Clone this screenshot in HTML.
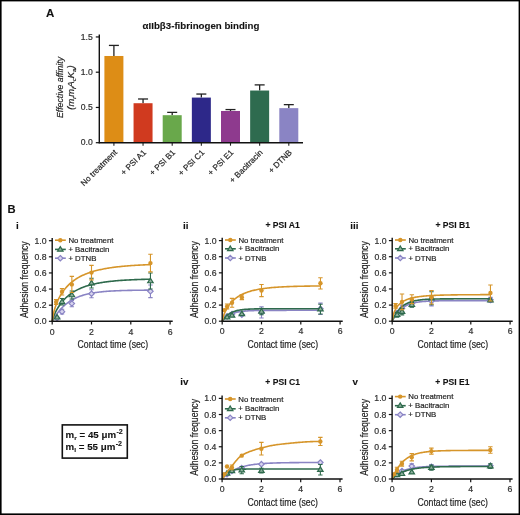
<!DOCTYPE html>
<html><head><meta charset="utf-8"><style>
html,body{margin:0;padding:0;background:#fff;}
svg{display:block;filter:blur(0.3px);font-family:"Liberation Sans", sans-serif;}
text{stroke:#2a2a2a;stroke-width:0.2px;}
text[font-weight=bold]{stroke-width:0.12px;}
</style></head><body>
<svg width="520" height="515" viewBox="0 0 520 515">
<rect width="520" height="515" fill="#fff"/>
<line x1="113.90" y1="55.98" x2="113.90" y2="45.41" stroke="#222" stroke-width="1.3"/>
<line x1="108.90" y1="45.41" x2="118.90" y2="45.41" stroke="#222" stroke-width="1.3"/>
<rect x="104.40" y="55.98" width="19.0" height="86.72" fill="#DD8D16"/>
<line x1="113.90" y1="142.70" x2="113.90" y2="145.70" stroke="#222" stroke-width="1.1"/>
<text x="117.50" y="153.00" font-size="8.2" text-anchor="end" transform="rotate(-45 117.50 153.00)" fill="#1a1a1a">No treatment</text>
<line x1="143.05" y1="103.22" x2="143.05" y2="98.99" stroke="#222" stroke-width="1.3"/>
<line x1="138.05" y1="98.99" x2="148.05" y2="98.99" stroke="#222" stroke-width="1.3"/>
<rect x="133.55" y="103.22" width="19.0" height="39.48" fill="#D03A1F"/>
<line x1="143.05" y1="142.70" x2="143.05" y2="145.70" stroke="#222" stroke-width="1.1"/>
<text x="146.65" y="153.00" font-size="8.2" text-anchor="end" transform="rotate(-45 146.65 153.00)" fill="#1a1a1a">+ PSI A1</text>
<line x1="172.20" y1="115.20" x2="172.20" y2="112.38" stroke="#222" stroke-width="1.3"/>
<line x1="167.20" y1="112.38" x2="177.20" y2="112.38" stroke="#222" stroke-width="1.3"/>
<rect x="162.70" y="115.20" width="19.0" height="27.50" fill="#69A84B"/>
<line x1="172.20" y1="142.70" x2="172.20" y2="145.70" stroke="#222" stroke-width="1.1"/>
<text x="175.80" y="153.00" font-size="8.2" text-anchor="end" transform="rotate(-45 175.80 153.00)" fill="#1a1a1a">+ PSI B1</text>
<line x1="201.35" y1="97.58" x2="201.35" y2="94.05" stroke="#222" stroke-width="1.3"/>
<line x1="196.35" y1="94.05" x2="206.35" y2="94.05" stroke="#222" stroke-width="1.3"/>
<rect x="191.85" y="97.58" width="19.0" height="45.12" fill="#2D2889"/>
<line x1="201.35" y1="142.70" x2="201.35" y2="145.70" stroke="#222" stroke-width="1.1"/>
<text x="204.95" y="153.00" font-size="8.2" text-anchor="end" transform="rotate(-45 204.95 153.00)" fill="#1a1a1a">+ PSI C1</text>
<line x1="230.50" y1="110.97" x2="230.50" y2="109.56" stroke="#222" stroke-width="1.3"/>
<line x1="225.50" y1="109.56" x2="235.50" y2="109.56" stroke="#222" stroke-width="1.3"/>
<rect x="221.00" y="110.97" width="19.0" height="31.72" fill="#8E3A8E"/>
<line x1="230.50" y1="142.70" x2="230.50" y2="145.70" stroke="#222" stroke-width="1.1"/>
<text x="234.10" y="153.00" font-size="8.2" text-anchor="end" transform="rotate(-45 234.10 153.00)" fill="#1a1a1a">+ PSI E1</text>
<line x1="259.65" y1="90.53" x2="259.65" y2="84.89" stroke="#222" stroke-width="1.3"/>
<line x1="254.65" y1="84.89" x2="264.65" y2="84.89" stroke="#222" stroke-width="1.3"/>
<rect x="250.15" y="90.53" width="19.0" height="52.17" fill="#2E6B4F"/>
<line x1="259.65" y1="142.70" x2="259.65" y2="145.70" stroke="#222" stroke-width="1.1"/>
<text x="263.25" y="153.00" font-size="8.2" text-anchor="end" transform="rotate(-45 263.25 153.00)" fill="#1a1a1a">+ Bacitracin</text>
<line x1="288.80" y1="108.15" x2="288.80" y2="104.63" stroke="#222" stroke-width="1.3"/>
<line x1="283.80" y1="104.63" x2="293.80" y2="104.63" stroke="#222" stroke-width="1.3"/>
<rect x="279.30" y="108.15" width="19.0" height="34.55" fill="#8A84C4"/>
<line x1="288.80" y1="142.70" x2="288.80" y2="145.70" stroke="#222" stroke-width="1.1"/>
<text x="292.40" y="153.00" font-size="8.2" text-anchor="end" transform="rotate(-45 292.40 153.00)" fill="#1a1a1a">+ DTNB</text>
<line x1="99.3" y1="34.45" x2="99.3" y2="143.30" stroke="#111" stroke-width="1.4"/>
<line x1="98.7" y1="142.7" x2="303" y2="142.7" stroke="#111" stroke-width="1.4"/>
<line x1="95.8" y1="142.70" x2="99.3" y2="142.70" stroke="#111" stroke-width="1.2"/>
<text x="92.70" y="145.30" font-size="8.6" text-anchor="end" fill="#333">0.0</text>
<line x1="95.8" y1="107.45" x2="99.3" y2="107.45" stroke="#111" stroke-width="1.2"/>
<text x="92.70" y="110.05" font-size="8.6" text-anchor="end" fill="#333">0.5</text>
<line x1="95.8" y1="72.20" x2="99.3" y2="72.20" stroke="#111" stroke-width="1.2"/>
<text x="92.70" y="74.80" font-size="8.6" text-anchor="end" fill="#333">1.0</text>
<line x1="95.8" y1="36.95" x2="99.3" y2="36.95" stroke="#111" stroke-width="1.2"/>
<text x="92.70" y="39.55" font-size="8.6" text-anchor="end" fill="#333">1.5</text>
<text transform="translate(62.8,87.5) rotate(-90) scale(0.93,1)" font-size="9.4" font-style="italic" text-anchor="middle" fill="#1a1a1a">Effective affinity</text>
<text transform="translate(74,87.5) rotate(-90) scale(1.0,1)" font-size="9.4" font-style="italic" text-anchor="middle" fill="#1a1a1a">(m<tspan font-size="6.2" dy="1.8">r</tspan><tspan dy="-1.8">m</tspan><tspan font-size="6.2" dy="1.8">l</tspan><tspan dy="-1.8">A</tspan><tspan font-size="6.2" dy="1.8">c</tspan><tspan dy="-1.8">K</tspan><tspan font-size="6.2" dy="1.8">a</tspan><tspan dy="-1.8">)</tspan></text>
<text x="142.6" y="28.5" font-size="9.7" font-weight="bold" fill="#111">αIIbβ3-fibrinogen binding</text>
<text x="45.9" y="16.9" font-size="11.5" font-weight="bold" fill="#111">A</text>
<text x="7.6" y="212.7" font-size="11.2" font-weight="bold" fill="#111">B</text>
<path d="M52.20,321.30 L53.18,319.57 L54.17,317.93 L55.15,316.38 L56.13,314.92 L57.11,313.54 L58.10,312.24 L59.08,311.01 L60.06,309.85 L61.04,308.75 L62.03,307.71 L63.01,306.73 L63.99,305.81 L64.97,304.93 L65.95,304.11 L66.94,303.33 L67.92,302.59 L68.90,301.89 L69.89,301.24 L70.87,300.62 L71.85,300.03 L72.83,299.47 L73.81,298.95 L74.80,298.46 L75.78,297.99 L76.76,297.55 L77.75,297.13 L78.73,296.74 L79.71,296.37 L80.69,296.02 L81.67,295.68 L82.66,295.37 L83.64,295.07 L84.62,294.79 L85.61,294.53 L86.59,294.28 L87.57,294.05 L88.55,293.82 L89.53,293.61 L90.52,293.41 L91.50,293.23 L92.48,293.05 L93.47,292.88 L94.45,292.72 L95.43,292.57 L96.41,292.43 L97.40,292.30 L98.38,292.17 L99.36,292.05 L100.34,291.94 L101.33,291.84 L102.31,291.74 L103.29,291.64 L104.27,291.55 L105.25,291.47 L106.24,291.39 L107.22,291.31 L108.20,291.24 L109.19,291.17 L110.17,291.11 L111.15,291.05 L112.13,290.99 L113.12,290.94 L114.10,290.89 L115.08,290.84 L116.06,290.80 L117.05,290.75 L118.03,290.71 L119.01,290.68 L119.99,290.64 L120.97,290.61 L121.96,290.57 L122.94,290.54 L123.92,290.51 L124.91,290.49 L125.89,290.46 L126.87,290.44 L127.85,290.42 L128.84,290.39 L129.82,290.37 L130.80,290.35 L131.78,290.34 L132.76,290.32 L133.75,290.30 L134.73,290.29 L135.71,290.27 L136.69,290.26 L137.68,290.25 L138.66,290.23 L139.64,290.22 L140.62,290.21 L141.61,290.20 L142.59,290.19 L143.57,290.18 L144.56,290.17 L145.54,290.17 L146.52,290.16 L147.50,290.15 L148.49,290.14 L149.47,290.14 L150.45,290.13" fill="none" stroke="#8A84C4" stroke-width="1.6"/>
<polygon points="57.11,315.38 59.81,318.08 57.11,320.78 54.41,318.08" fill="#D8D5EE" stroke="#8A84C4" stroke-width="1.2"/>
<path d="M62.03,314.05 V309.21 M59.83,309.21 h4.4 M59.83,314.05 h4.4" stroke="#8A84C4" stroke-width="1.1" fill="none"/>
<polygon points="62.03,308.93 64.73,311.63 62.03,314.33 59.33,311.63" fill="#D8D5EE" stroke="#8A84C4" stroke-width="1.2"/>
<path d="M71.85,306.79 V300.34 M69.65,300.34 h4.4 M69.65,306.79 h4.4" stroke="#8A84C4" stroke-width="1.1" fill="none"/>
<polygon points="71.85,300.87 74.55,303.57 71.85,306.27 69.15,303.57" fill="#D8D5EE" stroke="#8A84C4" stroke-width="1.2"/>
<path d="M91.50,297.76 V289.70 M89.30,289.70 h4.4 M89.30,297.76 h4.4" stroke="#8A84C4" stroke-width="1.1" fill="none"/>
<polygon points="91.50,291.03 94.20,293.73 91.50,296.43 88.80,293.73" fill="#D8D5EE" stroke="#8A84C4" stroke-width="1.2"/>
<path d="M150.45,297.60 V285.03 M148.25,285.03 h4.4 M148.25,297.60 h4.4" stroke="#8A84C4" stroke-width="1.1" fill="none"/>
<polygon points="150.45,288.62 153.15,291.32 150.45,294.02 147.75,291.32" fill="#D8D5EE" stroke="#8A84C4" stroke-width="1.2"/>
<path d="M52.20,321.30 L53.18,317.82 L54.17,315.23 L55.15,312.99 L56.13,310.99 L57.11,309.17 L58.10,307.51 L59.08,305.97 L60.06,304.55 L61.04,303.22 L62.03,301.98 L63.01,300.82 L63.99,299.73 L64.97,298.71 L65.95,297.75 L66.94,296.85 L67.92,295.99 L68.90,295.19 L69.89,294.42 L70.87,293.70 L71.85,293.02 L72.83,292.37 L73.81,291.75 L74.80,291.17 L75.78,290.62 L76.76,290.09 L77.75,289.59 L78.73,289.11 L79.71,288.66 L80.69,288.23 L81.67,287.82 L82.66,287.43 L83.64,287.05 L84.62,286.70 L85.61,286.36 L86.59,286.04 L87.57,285.73 L88.55,285.43 L89.53,285.15 L90.52,284.88 L91.50,284.63 L92.48,284.38 L93.47,284.14 L94.45,283.92 L95.43,283.71 L96.41,283.50 L97.40,283.30 L98.38,283.12 L99.36,282.94 L100.34,282.76 L101.33,282.60 L102.31,282.44 L103.29,282.29 L104.27,282.14 L105.25,282.01 L106.24,281.87 L107.22,281.74 L108.20,281.62 L109.19,281.50 L110.17,281.39 L111.15,281.28 L112.13,281.18 L113.12,281.08 L114.10,280.99 L115.08,280.89 L116.06,280.81 L117.05,280.72 L118.03,280.64 L119.01,280.56 L119.99,280.49 L120.97,280.42 L121.96,280.35 L122.94,280.28 L123.92,280.22 L124.91,280.16 L125.89,280.10 L126.87,280.04 L127.85,279.99 L128.84,279.94 L129.82,279.89 L130.80,279.84 L131.78,279.79 L132.76,279.75 L133.75,279.71 L134.73,279.67 L135.71,279.63 L136.69,279.59 L137.68,279.55 L138.66,279.52 L139.64,279.48 L140.62,279.45 L141.61,279.42 L142.59,279.39 L143.57,279.36 L144.56,279.33 L145.54,279.30 L146.52,279.28 L147.50,279.25 L148.49,279.23 L149.47,279.21 L150.45,279.18" fill="none" stroke="#2E6A4C" stroke-width="1.6"/>
<polygon points="57.11,314.47 59.86,319.01 54.37,319.01" fill="#8FB09E" stroke="#2E6A4C" stroke-width="1.2"/>
<path d="M62.03,305.02 V298.57 M59.83,298.57 h4.4 M59.83,305.02 h4.4" stroke="#2E6A4C" stroke-width="1.1" fill="none"/>
<polygon points="62.03,298.99 64.77,303.53 59.28,303.53" fill="#8FB09E" stroke="#2E6A4C" stroke-width="1.2"/>
<path d="M71.85,299.05 V290.99 M69.65,290.99 h4.4 M69.65,299.05 h4.4" stroke="#2E6A4C" stroke-width="1.1" fill="none"/>
<polygon points="71.85,292.22 74.59,296.76 69.11,296.76" fill="#8FB09E" stroke="#2E6A4C" stroke-width="1.2"/>
<path d="M91.50,287.93 V278.26 M89.30,278.26 h4.4 M89.30,287.93 h4.4" stroke="#2E6A4C" stroke-width="1.1" fill="none"/>
<polygon points="91.50,280.30 94.24,284.83 88.76,284.83" fill="#8FB09E" stroke="#2E6A4C" stroke-width="1.2"/>
<path d="M150.45,289.06 V272.94 M148.25,272.94 h4.4 M148.25,289.06 h4.4" stroke="#2E6A4C" stroke-width="1.1" fill="none"/>
<polygon points="150.45,278.20 153.19,282.74 147.71,282.74" fill="#8FB09E" stroke="#2E6A4C" stroke-width="1.2"/>
<path d="M52.20,321.30 L53.18,314.76 L54.17,310.74 L55.15,307.46 L56.13,304.66 L57.11,302.19 L58.10,299.97 L59.08,297.97 L60.06,296.14 L61.04,294.46 L62.03,292.91 L63.01,291.47 L63.99,290.13 L64.97,288.88 L65.95,287.71 L66.94,286.61 L67.92,285.58 L68.90,284.61 L69.89,283.69 L70.87,282.83 L71.85,282.01 L72.83,281.24 L73.81,280.51 L74.80,279.81 L75.78,279.15 L76.76,278.53 L77.75,277.93 L78.73,277.36 L79.71,276.82 L80.69,276.31 L81.67,275.81 L82.66,275.34 L83.64,274.90 L84.62,274.47 L85.61,274.06 L86.59,273.67 L87.57,273.29 L88.55,272.93 L89.53,272.59 L90.52,272.26 L91.50,271.94 L92.48,271.64 L93.47,271.35 L94.45,271.07 L95.43,270.80 L96.41,270.55 L97.40,270.30 L98.38,270.06 L99.36,269.84 L100.34,269.62 L101.33,269.41 L102.31,269.20 L103.29,269.01 L104.27,268.82 L105.25,268.64 L106.24,268.46 L107.22,268.30 L108.20,268.13 L109.19,267.98 L110.17,267.83 L111.15,267.68 L112.13,267.54 L113.12,267.41 L114.10,267.28 L115.08,267.15 L116.06,267.03 L117.05,266.92 L118.03,266.80 L119.01,266.69 L119.99,266.59 L120.97,266.49 L121.96,266.39 L122.94,266.30 L123.92,266.20 L124.91,266.12 L125.89,266.03 L126.87,265.95 L127.85,265.87 L128.84,265.79 L129.82,265.72 L130.80,265.64 L131.78,265.57 L132.76,265.50 L133.75,265.44 L134.73,265.38 L135.71,265.31 L136.69,265.26 L137.68,265.20 L138.66,265.14 L139.64,265.09 L140.62,265.04 L141.61,264.99 L142.59,264.94 L143.57,264.89 L144.56,264.84 L145.54,264.80 L146.52,264.75 L147.50,264.71 L148.49,264.67 L149.47,264.63 L150.45,264.59" fill="none" stroke="#D6952A" stroke-width="1.6"/>
<path d="M56.13,304.37 V299.54 M53.93,299.54 h4.4 M53.93,304.37 h4.4" stroke="#D6952A" stroke-width="1.1" fill="none"/>
<circle cx="56.13" cy="301.96" r="2.20" fill="#D6952A"/>
<path d="M62.03,295.02 V288.58 M59.83,288.58 h4.4 M59.83,295.02 h4.4" stroke="#D6952A" stroke-width="1.1" fill="none"/>
<circle cx="62.03" cy="291.80" r="2.20" fill="#D6952A"/>
<path d="M71.85,292.45 V276.33 M69.65,276.33 h4.4 M69.65,292.45 h4.4" stroke="#D6952A" stroke-width="1.1" fill="none"/>
<circle cx="71.85" cy="284.39" r="2.20" fill="#D6952A"/>
<path d="M91.50,279.87 V265.36 M89.30,265.36 h4.4 M89.30,279.87 h4.4" stroke="#D6952A" stroke-width="1.1" fill="none"/>
<circle cx="91.50" cy="272.62" r="2.20" fill="#D6952A"/>
<path d="M150.45,271.89 V254.32 M148.25,254.32 h4.4 M148.25,271.89 h4.4" stroke="#D6952A" stroke-width="1.1" fill="none"/>
<circle cx="150.45" cy="263.11" r="2.20" fill="#D6952A"/>
<path d="M52.20,237.90 V321.30 M51.50,321.30 H172.70" stroke="#111" stroke-width="1.4" fill="none"/>
<line x1="48.90" y1="321.30" x2="52.20" y2="321.30" stroke="#111" stroke-width="1.2"/>
<text x="46.50" y="324.30" font-size="8.7" text-anchor="end" fill="#333">0.0</text>
<line x1="48.90" y1="305.18" x2="52.20" y2="305.18" stroke="#111" stroke-width="1.2"/>
<text x="46.50" y="308.18" font-size="8.7" text-anchor="end" fill="#333">0.2</text>
<line x1="48.90" y1="289.06" x2="52.20" y2="289.06" stroke="#111" stroke-width="1.2"/>
<text x="46.50" y="292.06" font-size="8.7" text-anchor="end" fill="#333">0.4</text>
<line x1="48.90" y1="272.94" x2="52.20" y2="272.94" stroke="#111" stroke-width="1.2"/>
<text x="46.50" y="275.94" font-size="8.7" text-anchor="end" fill="#333">0.6</text>
<line x1="48.90" y1="256.82" x2="52.20" y2="256.82" stroke="#111" stroke-width="1.2"/>
<text x="46.50" y="259.82" font-size="8.7" text-anchor="end" fill="#333">0.8</text>
<line x1="48.90" y1="240.70" x2="52.20" y2="240.70" stroke="#111" stroke-width="1.2"/>
<text x="46.50" y="243.70" font-size="8.7" text-anchor="end" fill="#333">1.0</text>
<line x1="52.20" y1="321.30" x2="52.20" y2="324.50" stroke="#111" stroke-width="1.2"/>
<text x="52.20" y="334.50" font-size="8.7" text-anchor="middle" fill="#333">0</text>
<line x1="91.50" y1="321.30" x2="91.50" y2="324.50" stroke="#111" stroke-width="1.2"/>
<text x="91.50" y="334.50" font-size="8.7" text-anchor="middle" fill="#333">2</text>
<line x1="130.80" y1="321.30" x2="130.80" y2="324.50" stroke="#111" stroke-width="1.2"/>
<text x="130.80" y="334.50" font-size="8.7" text-anchor="middle" fill="#333">4</text>
<line x1="170.10" y1="321.30" x2="170.10" y2="324.50" stroke="#111" stroke-width="1.2"/>
<text x="170.10" y="334.50" font-size="8.7" text-anchor="middle" fill="#333">6</text>
<text transform="translate(28.20,279.70) rotate(-90) scale(0.87,1)" font-size="10.0" text-anchor="middle" fill="#1a1a1a">Adhesion frequency</text>
<text transform="translate(112.80,348.30) scale(0.87,1)" font-size="10.0" text-anchor="middle" fill="#1a1a1a">Contact time (sec)</text>
<line x1="55.00" y1="240.20" x2="65.80" y2="240.20" stroke="#D6952A" stroke-width="1.6"/>
<circle cx="60.30" cy="240.20" r="2.20" fill="#D6952A"/>
<text x="68.40" y="242.80" font-size="7.8" fill="#1a1a1a">No treatment</text>
<line x1="55.00" y1="249.40" x2="65.80" y2="249.40" stroke="#2E6A4C" stroke-width="1.6"/>
<polygon points="60.30,246.60 63.04,251.14 57.56,251.14" fill="#8FB09E" stroke="#2E6A4C" stroke-width="1.2"/>
<text x="68.40" y="252.00" font-size="7.8" fill="#1a1a1a">+ Bacitracin</text>
<line x1="55.00" y1="258.20" x2="65.80" y2="258.20" stroke="#8A84C4" stroke-width="1.6"/>
<polygon points="60.30,255.50 63.00,258.20 60.30,260.90 57.60,258.20" fill="#D8D5EE" stroke="#8A84C4" stroke-width="1.2"/>
<text x="68.40" y="260.80" font-size="7.8" fill="#1a1a1a">+ DTNB</text>
<text x="16.00" y="228.90" font-size="9.8" font-weight="bold" fill="#111">i</text>
<path d="M222.20,321.20 L223.18,320.02 L224.16,318.96 L225.15,318.03 L226.13,317.19 L227.11,316.44 L228.09,315.78 L229.08,315.18 L230.06,314.66 L231.04,314.18 L232.02,313.76 L233.01,313.39 L233.99,313.06 L234.97,312.76 L235.95,312.49 L236.94,312.26 L237.92,312.05 L238.90,311.86 L239.88,311.69 L240.87,311.54 L241.85,311.41 L242.83,311.29 L243.81,311.19 L244.80,311.09 L245.78,311.01 L246.76,310.93 L247.74,310.87 L248.73,310.81 L249.71,310.75 L250.69,310.71 L251.67,310.66 L252.66,310.63 L253.64,310.59 L254.62,310.56 L255.60,310.54 L256.59,310.51 L257.57,310.49 L258.55,310.47 L259.53,310.46 L260.52,310.44 L261.50,310.43 L262.48,310.42 L263.46,310.41 L264.45,310.40 L265.43,310.39 L266.41,310.38 L267.39,310.37 L268.38,310.37 L269.36,310.36 L270.34,310.36 L271.32,310.35 L272.31,310.35 L273.29,310.35 L274.27,310.34 L275.25,310.34 L276.24,310.34 L277.22,310.34 L278.20,310.33 L279.19,310.33 L280.17,310.33 L281.15,310.33 L282.13,310.33 L283.12,310.33 L284.10,310.33 L285.08,310.33 L286.06,310.33 L287.04,310.32 L288.03,310.32 L289.01,310.32 L289.99,310.32 L290.97,310.32 L291.96,310.32 L292.94,310.32 L293.92,310.32 L294.90,310.32 L295.89,310.32 L296.87,310.32 L297.85,310.32 L298.83,310.32 L299.82,310.32 L300.80,310.32 L301.78,310.32 L302.76,310.32 L303.75,310.32 L304.73,310.32 L305.71,310.32 L306.69,310.32 L307.68,310.32 L308.66,310.32 L309.64,310.32 L310.62,310.32 L311.61,310.32 L312.59,310.32 L313.57,310.32 L314.55,310.32 L315.54,310.32 L316.52,310.32 L317.50,310.32 L318.49,310.32 L319.47,310.32 L320.45,310.32" fill="none" stroke="#8A84C4" stroke-width="1.6"/>
<polygon points="227.11,313.66 229.81,316.36 227.11,319.06 224.41,316.36" fill="#D8D5EE" stroke="#8A84C4" stroke-width="1.2"/>
<polygon points="232.02,311.25 234.72,313.95 232.02,316.65 229.32,313.95" fill="#D8D5EE" stroke="#8A84C4" stroke-width="1.2"/>
<polygon points="241.85,312.05 244.55,314.75 241.85,317.45 239.15,314.75" fill="#D8D5EE" stroke="#8A84C4" stroke-width="1.2"/>
<path d="M261.50,317.98 V306.69 M259.30,306.69 h4.4 M259.30,317.98 h4.4" stroke="#8A84C4" stroke-width="1.1" fill="none"/>
<polygon points="261.50,309.63 264.20,312.33 261.50,315.03 258.80,312.33" fill="#D8D5EE" stroke="#8A84C4" stroke-width="1.2"/>
<path d="M320.45,314.43 V303.15 M318.25,303.15 h4.4 M318.25,314.43 h4.4" stroke="#8A84C4" stroke-width="1.1" fill="none"/>
<polygon points="320.45,306.09 323.15,308.79 320.45,311.49 317.75,308.79" fill="#D8D5EE" stroke="#8A84C4" stroke-width="1.2"/>
<path d="M222.20,321.20 L223.18,319.73 L224.16,318.44 L225.15,317.29 L226.13,316.28 L227.11,315.39 L228.09,314.61 L229.08,313.91 L230.06,313.30 L231.04,312.76 L232.02,312.29 L233.01,311.87 L233.99,311.49 L234.97,311.17 L235.95,310.88 L236.94,310.62 L237.92,310.40 L238.90,310.20 L239.88,310.02 L240.87,309.87 L241.85,309.73 L242.83,309.61 L243.81,309.51 L244.80,309.41 L245.78,309.33 L246.76,309.26 L247.74,309.19 L248.73,309.13 L249.71,309.08 L250.69,309.04 L251.67,309.00 L252.66,308.97 L253.64,308.94 L254.62,308.91 L255.60,308.89 L256.59,308.86 L257.57,308.85 L258.55,308.83 L259.53,308.82 L260.52,308.80 L261.50,308.79 L262.48,308.78 L263.46,308.77 L264.45,308.76 L265.43,308.76 L266.41,308.75 L267.39,308.75 L268.38,308.74 L269.36,308.74 L270.34,308.73 L271.32,308.73 L272.31,308.73 L273.29,308.73 L274.27,308.72 L275.25,308.72 L276.24,308.72 L277.22,308.72 L278.20,308.72 L279.19,308.72 L280.17,308.71 L281.15,308.71 L282.13,308.71 L283.12,308.71 L284.10,308.71 L285.08,308.71 L286.06,308.71 L287.04,308.71 L288.03,308.71 L289.01,308.71 L289.99,308.71 L290.97,308.71 L291.96,308.71 L292.94,308.71 L293.92,308.71 L294.90,308.71 L295.89,308.71 L296.87,308.71 L297.85,308.71 L298.83,308.71 L299.82,308.71 L300.80,308.71 L301.78,308.71 L302.76,308.71 L303.75,308.71 L304.73,308.71 L305.71,308.71 L306.69,308.71 L307.68,308.71 L308.66,308.71 L309.64,308.71 L310.62,308.71 L311.61,308.71 L312.59,308.71 L313.57,308.71 L314.55,308.71 L315.54,308.71 L316.52,308.71 L317.50,308.71 L318.49,308.71 L319.47,308.71 L320.45,308.71" fill="none" stroke="#2E6A4C" stroke-width="1.6"/>
<polygon points="227.11,314.37 229.86,318.91 224.37,318.91" fill="#8FB09E" stroke="#2E6A4C" stroke-width="1.2"/>
<polygon points="232.02,312.60 234.77,317.13 229.28,317.13" fill="#8FB09E" stroke="#2E6A4C" stroke-width="1.2"/>
<polygon points="241.85,311.15 244.59,315.68 239.11,315.68" fill="#8FB09E" stroke="#2E6A4C" stroke-width="1.2"/>
<path d="M261.50,314.75 V308.30 M259.30,308.30 h4.4 M259.30,314.75 h4.4" stroke="#2E6A4C" stroke-width="1.1" fill="none"/>
<polygon points="261.50,308.73 264.24,313.26 258.76,313.26" fill="#8FB09E" stroke="#2E6A4C" stroke-width="1.2"/>
<path d="M320.45,313.95 V304.27 M318.25,304.27 h4.4 M318.25,313.95 h4.4" stroke="#2E6A4C" stroke-width="1.1" fill="none"/>
<polygon points="320.45,306.31 323.19,310.85 317.71,310.85" fill="#8FB09E" stroke="#2E6A4C" stroke-width="1.2"/>
<path d="M222.20,321.20 L223.18,316.96 L224.16,314.14 L225.15,311.83 L226.13,309.84 L227.11,308.08 L228.09,306.52 L229.08,305.11 L230.06,303.84 L231.04,302.67 L232.02,301.61 L233.01,300.63 L233.99,299.72 L234.97,298.89 L235.95,298.12 L236.94,297.40 L237.92,296.73 L238.90,296.11 L239.88,295.53 L240.87,294.99 L241.85,294.48 L242.83,294.01 L243.81,293.56 L244.80,293.15 L245.78,292.76 L246.76,292.39 L247.74,292.04 L248.73,291.72 L249.71,291.41 L250.69,291.12 L251.67,290.85 L252.66,290.59 L253.64,290.35 L254.62,290.12 L255.60,289.91 L256.59,289.70 L257.57,289.51 L258.55,289.33 L259.53,289.15 L260.52,288.99 L261.50,288.83 L262.48,288.69 L263.46,288.55 L264.45,288.42 L265.43,288.29 L266.41,288.17 L267.39,288.06 L268.38,287.95 L269.36,287.85 L270.34,287.75 L271.32,287.66 L272.31,287.57 L273.29,287.49 L274.27,287.41 L275.25,287.34 L276.24,287.26 L277.22,287.20 L278.20,287.13 L279.19,287.07 L280.17,287.01 L281.15,286.95 L282.13,286.90 L283.12,286.85 L284.10,286.80 L285.08,286.75 L286.06,286.71 L287.04,286.67 L288.03,286.63 L289.01,286.59 L289.99,286.55 L290.97,286.52 L291.96,286.48 L292.94,286.45 L293.92,286.42 L294.90,286.39 L295.89,286.37 L296.87,286.34 L297.85,286.31 L298.83,286.29 L299.82,286.27 L300.80,286.24 L301.78,286.22 L302.76,286.20 L303.75,286.18 L304.73,286.17 L305.71,286.15 L306.69,286.13 L307.68,286.12 L308.66,286.10 L309.64,286.08 L310.62,286.07 L311.61,286.06 L312.59,286.04 L313.57,286.03 L314.55,286.02 L315.54,286.01 L316.52,286.00 L317.50,285.99 L318.49,285.98 L319.47,285.97 L320.45,285.96" fill="none" stroke="#D6952A" stroke-width="1.6"/>
<circle cx="224.16" cy="310.16" r="2.20" fill="#D6952A"/>
<path d="M227.11,308.87 V304.03 M224.91,304.03 h4.4 M224.91,308.87 h4.4" stroke="#D6952A" stroke-width="1.1" fill="none"/>
<circle cx="227.11" cy="306.45" r="2.20" fill="#D6952A"/>
<path d="M232.02,307.26 V298.39 M229.82,298.39 h4.4 M229.82,307.26 h4.4" stroke="#D6952A" stroke-width="1.1" fill="none"/>
<circle cx="232.02" cy="302.82" r="2.20" fill="#D6952A"/>
<path d="M241.85,299.60 V294.76 M239.65,294.76 h4.4 M239.65,299.60 h4.4" stroke="#D6952A" stroke-width="1.1" fill="none"/>
<circle cx="241.85" cy="297.18" r="2.20" fill="#D6952A"/>
<path d="M261.50,296.62 V284.53 M259.30,284.53 h4.4 M259.30,296.62 h4.4" stroke="#D6952A" stroke-width="1.1" fill="none"/>
<circle cx="261.50" cy="290.57" r="2.20" fill="#D6952A"/>
<path d="M320.45,288.96 V277.68 M318.25,277.68 h4.4 M318.25,288.96 h4.4" stroke="#D6952A" stroke-width="1.1" fill="none"/>
<circle cx="320.45" cy="283.32" r="2.20" fill="#D6952A"/>
<path d="M222.20,237.80 V321.20 M221.50,321.20 H342.70" stroke="#111" stroke-width="1.4" fill="none"/>
<line x1="218.90" y1="321.20" x2="222.20" y2="321.20" stroke="#111" stroke-width="1.2"/>
<text x="216.50" y="324.20" font-size="8.7" text-anchor="end" fill="#333">0.0</text>
<line x1="218.90" y1="305.08" x2="222.20" y2="305.08" stroke="#111" stroke-width="1.2"/>
<text x="216.50" y="308.08" font-size="8.7" text-anchor="end" fill="#333">0.2</text>
<line x1="218.90" y1="288.96" x2="222.20" y2="288.96" stroke="#111" stroke-width="1.2"/>
<text x="216.50" y="291.96" font-size="8.7" text-anchor="end" fill="#333">0.4</text>
<line x1="218.90" y1="272.84" x2="222.20" y2="272.84" stroke="#111" stroke-width="1.2"/>
<text x="216.50" y="275.84" font-size="8.7" text-anchor="end" fill="#333">0.6</text>
<line x1="218.90" y1="256.72" x2="222.20" y2="256.72" stroke="#111" stroke-width="1.2"/>
<text x="216.50" y="259.72" font-size="8.7" text-anchor="end" fill="#333">0.8</text>
<line x1="218.90" y1="240.60" x2="222.20" y2="240.60" stroke="#111" stroke-width="1.2"/>
<text x="216.50" y="243.60" font-size="8.7" text-anchor="end" fill="#333">1.0</text>
<line x1="222.20" y1="321.20" x2="222.20" y2="324.40" stroke="#111" stroke-width="1.2"/>
<text x="222.20" y="334.40" font-size="8.7" text-anchor="middle" fill="#333">0</text>
<line x1="261.50" y1="321.20" x2="261.50" y2="324.40" stroke="#111" stroke-width="1.2"/>
<text x="261.50" y="334.40" font-size="8.7" text-anchor="middle" fill="#333">2</text>
<line x1="300.80" y1="321.20" x2="300.80" y2="324.40" stroke="#111" stroke-width="1.2"/>
<text x="300.80" y="334.40" font-size="8.7" text-anchor="middle" fill="#333">4</text>
<line x1="340.10" y1="321.20" x2="340.10" y2="324.40" stroke="#111" stroke-width="1.2"/>
<text x="340.10" y="334.40" font-size="8.7" text-anchor="middle" fill="#333">6</text>
<text transform="translate(198.20,279.60) rotate(-90) scale(0.87,1)" font-size="10.0" text-anchor="middle" fill="#1a1a1a">Adhesion frequency</text>
<text transform="translate(282.80,348.20) scale(0.87,1)" font-size="10.0" text-anchor="middle" fill="#1a1a1a">Contact time (sec)</text>
<line x1="225.00" y1="240.00" x2="235.80" y2="240.00" stroke="#D6952A" stroke-width="1.6"/>
<circle cx="230.30" cy="240.00" r="2.20" fill="#D6952A"/>
<text x="238.40" y="242.60" font-size="7.8" fill="#1a1a1a">No treatment</text>
<line x1="225.00" y1="248.80" x2="235.80" y2="248.80" stroke="#2E6A4C" stroke-width="1.6"/>
<polygon points="230.30,246.00 233.04,250.54 227.56,250.54" fill="#8FB09E" stroke="#2E6A4C" stroke-width="1.2"/>
<text x="238.40" y="251.40" font-size="7.8" fill="#1a1a1a">+ Bacitracin</text>
<line x1="225.00" y1="258.00" x2="235.80" y2="258.00" stroke="#8A84C4" stroke-width="1.6"/>
<polygon points="230.30,255.30 233.00,258.00 230.30,260.70 227.60,258.00" fill="#D8D5EE" stroke="#8A84C4" stroke-width="1.2"/>
<text x="238.40" y="260.60" font-size="7.8" fill="#1a1a1a">+ DTNB</text>
<text x="183.00" y="228.90" font-size="9.8" font-weight="bold" fill="#111">ii</text>
<text x="265.40" y="227.60" font-size="8.6" font-weight="bold" fill="#111">+ PSI A1</text>
<path d="M392.20,321.20 L393.18,319.24 L394.16,317.47 L395.15,315.87 L396.13,314.42 L397.11,313.11 L398.09,311.93 L399.08,310.85 L400.06,309.88 L401.04,309.00 L402.02,308.21 L403.01,307.49 L403.99,306.84 L404.97,306.25 L405.95,305.72 L406.94,305.23 L407.92,304.80 L408.90,304.40 L409.88,304.04 L410.87,303.72 L411.85,303.43 L412.83,303.16 L413.81,302.92 L414.80,302.71 L415.78,302.51 L416.76,302.33 L417.75,302.17 L418.73,302.03 L419.71,301.90 L420.69,301.78 L421.68,301.67 L422.66,301.57 L423.64,301.48 L424.62,301.41 L425.61,301.33 L426.59,301.27 L427.57,301.21 L428.55,301.16 L429.53,301.11 L430.52,301.06 L431.50,301.02 L432.48,300.99 L433.46,300.96 L434.45,300.93 L435.43,300.90 L436.41,300.88 L437.39,300.85 L438.38,300.83 L439.36,300.82 L440.34,300.80 L441.32,300.79 L442.31,300.77 L443.29,300.76 L444.27,300.75 L445.25,300.74 L446.24,300.73 L447.22,300.72 L448.20,300.72 L449.19,300.71 L450.17,300.70 L451.15,300.70 L452.13,300.69 L453.12,300.69 L454.10,300.68 L455.08,300.68 L456.06,300.68 L457.04,300.67 L458.03,300.67 L459.01,300.67 L459.99,300.67 L460.97,300.67 L461.96,300.66 L462.94,300.66 L463.92,300.66 L464.90,300.66 L465.89,300.66 L466.87,300.66 L467.85,300.66 L468.83,300.66 L469.82,300.65 L470.80,300.65 L471.78,300.65 L472.76,300.65 L473.75,300.65 L474.73,300.65 L475.71,300.65 L476.69,300.65 L477.68,300.65 L478.66,300.65 L479.64,300.65 L480.62,300.65 L481.61,300.65 L482.59,300.65 L483.57,300.65 L484.55,300.65 L485.54,300.65 L486.52,300.65 L487.50,300.65 L488.49,300.65 L489.47,300.65 L490.45,300.65" fill="none" stroke="#8A84C4" stroke-width="1.6"/>
<path d="M397.11,315.56 V310.72 M394.91,310.72 h4.4 M394.91,315.56 h4.4" stroke="#8A84C4" stroke-width="1.1" fill="none"/>
<polygon points="397.11,310.44 399.81,313.14 397.11,315.84 394.41,313.14" fill="#D8D5EE" stroke="#8A84C4" stroke-width="1.2"/>
<path d="M402.02,311.53 V305.08 M399.82,305.08 h4.4 M399.82,311.53 h4.4" stroke="#8A84C4" stroke-width="1.1" fill="none"/>
<polygon points="402.02,305.60 404.72,308.30 402.02,311.00 399.32,308.30" fill="#D8D5EE" stroke="#8A84C4" stroke-width="1.2"/>
<path d="M411.85,306.69 V300.24 M409.65,300.24 h4.4 M409.65,306.69 h4.4" stroke="#8A84C4" stroke-width="1.1" fill="none"/>
<polygon points="411.85,300.77 414.55,303.47 411.85,306.17 409.15,303.47" fill="#D8D5EE" stroke="#8A84C4" stroke-width="1.2"/>
<path d="M431.50,305.89 V296.21 M429.30,296.21 h4.4 M429.30,305.89 h4.4" stroke="#8A84C4" stroke-width="1.1" fill="none"/>
<polygon points="431.50,298.35 434.20,301.05 431.50,303.75 428.80,301.05" fill="#D8D5EE" stroke="#8A84C4" stroke-width="1.2"/>
<path d="M490.45,302.26 V297.42 M488.25,297.42 h4.4 M488.25,302.26 h4.4" stroke="#8A84C4" stroke-width="1.1" fill="none"/>
<polygon points="490.45,297.14 493.15,299.84 490.45,302.54 487.75,299.84" fill="#D8D5EE" stroke="#8A84C4" stroke-width="1.2"/>
<path d="M392.20,321.20 L393.18,318.97 L394.16,316.96 L395.15,315.15 L396.13,313.52 L397.11,312.05 L398.09,310.73 L399.08,309.54 L400.06,308.47 L401.04,307.50 L402.02,306.63 L403.01,305.85 L403.99,305.15 L404.97,304.52 L405.95,303.95 L406.94,303.43 L407.92,302.97 L408.90,302.55 L409.88,302.18 L410.87,301.84 L411.85,301.54 L412.83,301.26 L413.81,301.02 L414.80,300.80 L415.78,300.60 L416.76,300.42 L417.75,300.25 L418.73,300.11 L419.71,299.98 L420.69,299.86 L421.68,299.75 L422.66,299.66 L423.64,299.57 L424.62,299.49 L425.61,299.42 L426.59,299.36 L427.57,299.30 L428.55,299.25 L429.53,299.21 L430.52,299.17 L431.50,299.13 L432.48,299.10 L433.46,299.07 L434.45,299.04 L435.43,299.01 L436.41,298.99 L437.39,298.97 L438.38,298.95 L439.36,298.94 L440.34,298.92 L441.32,298.91 L442.31,298.90 L443.29,298.89 L444.27,298.88 L445.25,298.87 L446.24,298.86 L447.22,298.86 L448.20,298.85 L449.19,298.84 L450.17,298.84 L451.15,298.83 L452.13,298.83 L453.12,298.83 L454.10,298.82 L455.08,298.82 L456.06,298.82 L457.04,298.82 L458.03,298.81 L459.01,298.81 L459.99,298.81 L460.97,298.81 L461.96,298.81 L462.94,298.80 L463.92,298.80 L464.90,298.80 L465.89,298.80 L466.87,298.80 L467.85,298.80 L468.83,298.80 L469.82,298.80 L470.80,298.80 L471.78,298.80 L472.76,298.80 L473.75,298.80 L474.73,298.80 L475.71,298.80 L476.69,298.80 L477.68,298.80 L478.66,298.80 L479.64,298.80 L480.62,298.79 L481.61,298.79 L482.59,298.79 L483.57,298.79 L484.55,298.79 L485.54,298.79 L486.52,298.79 L487.50,298.79 L488.49,298.79 L489.47,298.79 L490.45,298.79" fill="none" stroke="#2E6A4C" stroke-width="1.6"/>
<path d="M397.11,317.17 V312.33 M394.91,312.33 h4.4 M394.91,317.17 h4.4" stroke="#2E6A4C" stroke-width="1.1" fill="none"/>
<polygon points="397.11,311.95 399.86,316.49 394.37,316.49" fill="#8FB09E" stroke="#2E6A4C" stroke-width="1.2"/>
<path d="M402.02,314.91 V308.47 M399.82,308.47 h4.4 M399.82,314.91 h4.4" stroke="#2E6A4C" stroke-width="1.1" fill="none"/>
<polygon points="402.02,308.89 404.77,313.43 399.28,313.43" fill="#8FB09E" stroke="#2E6A4C" stroke-width="1.2"/>
<path d="M411.85,307.18 V302.34 M409.65,302.34 h4.4 M409.65,307.18 h4.4" stroke="#2E6A4C" stroke-width="1.1" fill="none"/>
<polygon points="411.85,301.96 414.59,306.49 409.11,306.49" fill="#8FB09E" stroke="#2E6A4C" stroke-width="1.2"/>
<path d="M431.50,304.68 V291.78 M429.30,291.78 h4.4 M429.30,304.68 h4.4" stroke="#2E6A4C" stroke-width="1.1" fill="none"/>
<polygon points="431.50,295.43 434.24,299.96 428.76,299.96" fill="#8FB09E" stroke="#2E6A4C" stroke-width="1.2"/>
<polygon points="490.45,297.28 493.19,301.82 487.71,301.82" fill="#8FB09E" stroke="#2E6A4C" stroke-width="1.2"/>
<path d="M392.20,321.20 L393.18,315.25 L394.16,312.24 L395.15,310.01 L396.13,308.24 L397.11,306.79 L398.09,305.56 L399.08,304.51 L400.06,303.59 L401.04,302.79 L402.02,302.09 L403.01,301.46 L403.99,300.90 L404.97,300.40 L405.95,299.95 L406.94,299.54 L407.92,299.17 L408.90,298.83 L409.88,298.53 L410.87,298.25 L411.85,297.99 L412.83,297.76 L413.81,297.54 L414.80,297.35 L415.78,297.16 L416.76,297.00 L417.75,296.84 L418.73,296.70 L419.71,296.56 L420.69,296.44 L421.68,296.33 L422.66,296.22 L423.64,296.12 L424.62,296.03 L425.61,295.94 L426.59,295.86 L427.57,295.79 L428.55,295.72 L429.53,295.66 L430.52,295.60 L431.50,295.54 L432.48,295.49 L433.46,295.44 L434.45,295.39 L435.43,295.35 L436.41,295.30 L437.39,295.27 L438.38,295.23 L439.36,295.20 L440.34,295.16 L441.32,295.13 L442.31,295.11 L443.29,295.08 L444.27,295.05 L445.25,295.03 L446.24,295.01 L447.22,294.99 L448.20,294.97 L449.19,294.95 L450.17,294.93 L451.15,294.91 L452.13,294.90 L453.12,294.88 L454.10,294.87 L455.08,294.86 L456.06,294.84 L457.04,294.83 L458.03,294.82 L459.01,294.81 L459.99,294.80 L460.97,294.79 L461.96,294.78 L462.94,294.77 L463.92,294.76 L464.90,294.76 L465.89,294.75 L466.87,294.74 L467.85,294.74 L468.83,294.73 L469.82,294.72 L470.80,294.72 L471.78,294.71 L472.76,294.71 L473.75,294.70 L474.73,294.70 L475.71,294.69 L476.69,294.69 L477.68,294.69 L478.66,294.68 L479.64,294.68 L480.62,294.67 L481.61,294.67 L482.59,294.67 L483.57,294.67 L484.55,294.66 L485.54,294.66 L486.52,294.66 L487.50,294.65 L488.49,294.65 L489.47,294.65 L490.45,294.65" fill="none" stroke="#D6952A" stroke-width="1.6"/>
<path d="M395.54,308.30 V303.47 M393.34,303.47 h4.4 M393.34,308.30 h4.4" stroke="#D6952A" stroke-width="1.1" fill="none"/>
<circle cx="395.54" cy="305.89" r="2.20" fill="#D6952A"/>
<path d="M402.02,309.67 V294.04 M399.82,294.04 h4.4 M399.82,309.67 h4.4" stroke="#D6952A" stroke-width="1.1" fill="none"/>
<circle cx="402.02" cy="301.86" r="2.20" fill="#D6952A"/>
<path d="M411.85,303.63 V294.76 M409.65,294.76 h4.4 M409.65,303.63 h4.4" stroke="#D6952A" stroke-width="1.1" fill="none"/>
<circle cx="411.85" cy="299.20" r="2.20" fill="#D6952A"/>
<path d="M431.50,303.95 V290.57 M429.30,290.57 h4.4 M429.30,303.95 h4.4" stroke="#D6952A" stroke-width="1.1" fill="none"/>
<circle cx="431.50" cy="297.26" r="2.20" fill="#D6952A"/>
<path d="M490.45,301.05 V284.93 M488.25,284.93 h4.4 M488.25,301.05 h4.4" stroke="#D6952A" stroke-width="1.1" fill="none"/>
<circle cx="490.45" cy="292.99" r="2.20" fill="#D6952A"/>
<path d="M392.20,237.80 V321.20 M391.50,321.20 H512.70" stroke="#111" stroke-width="1.4" fill="none"/>
<line x1="388.90" y1="321.20" x2="392.20" y2="321.20" stroke="#111" stroke-width="1.2"/>
<text x="386.50" y="324.20" font-size="8.7" text-anchor="end" fill="#333">0.0</text>
<line x1="388.90" y1="305.08" x2="392.20" y2="305.08" stroke="#111" stroke-width="1.2"/>
<text x="386.50" y="308.08" font-size="8.7" text-anchor="end" fill="#333">0.2</text>
<line x1="388.90" y1="288.96" x2="392.20" y2="288.96" stroke="#111" stroke-width="1.2"/>
<text x="386.50" y="291.96" font-size="8.7" text-anchor="end" fill="#333">0.4</text>
<line x1="388.90" y1="272.84" x2="392.20" y2="272.84" stroke="#111" stroke-width="1.2"/>
<text x="386.50" y="275.84" font-size="8.7" text-anchor="end" fill="#333">0.6</text>
<line x1="388.90" y1="256.72" x2="392.20" y2="256.72" stroke="#111" stroke-width="1.2"/>
<text x="386.50" y="259.72" font-size="8.7" text-anchor="end" fill="#333">0.8</text>
<line x1="388.90" y1="240.60" x2="392.20" y2="240.60" stroke="#111" stroke-width="1.2"/>
<text x="386.50" y="243.60" font-size="8.7" text-anchor="end" fill="#333">1.0</text>
<line x1="392.20" y1="321.20" x2="392.20" y2="324.40" stroke="#111" stroke-width="1.2"/>
<text x="392.20" y="334.40" font-size="8.7" text-anchor="middle" fill="#333">0</text>
<line x1="431.50" y1="321.20" x2="431.50" y2="324.40" stroke="#111" stroke-width="1.2"/>
<text x="431.50" y="334.40" font-size="8.7" text-anchor="middle" fill="#333">2</text>
<line x1="470.80" y1="321.20" x2="470.80" y2="324.40" stroke="#111" stroke-width="1.2"/>
<text x="470.80" y="334.40" font-size="8.7" text-anchor="middle" fill="#333">4</text>
<line x1="510.10" y1="321.20" x2="510.10" y2="324.40" stroke="#111" stroke-width="1.2"/>
<text x="510.10" y="334.40" font-size="8.7" text-anchor="middle" fill="#333">6</text>
<text transform="translate(368.20,279.60) rotate(-90) scale(0.87,1)" font-size="10.0" text-anchor="middle" fill="#1a1a1a">Adhesion frequency</text>
<text transform="translate(452.80,348.20) scale(0.87,1)" font-size="10.0" text-anchor="middle" fill="#1a1a1a">Contact time (sec)</text>
<line x1="395.00" y1="240.00" x2="405.80" y2="240.00" stroke="#D6952A" stroke-width="1.6"/>
<circle cx="400.30" cy="240.00" r="2.20" fill="#D6952A"/>
<text x="408.40" y="242.60" font-size="7.8" fill="#1a1a1a">No treatment</text>
<line x1="395.00" y1="248.80" x2="405.80" y2="248.80" stroke="#2E6A4C" stroke-width="1.6"/>
<polygon points="400.30,246.00 403.04,250.54 397.56,250.54" fill="#8FB09E" stroke="#2E6A4C" stroke-width="1.2"/>
<text x="408.40" y="251.40" font-size="7.8" fill="#1a1a1a">+ Bacitracin</text>
<line x1="395.00" y1="258.00" x2="405.80" y2="258.00" stroke="#8A84C4" stroke-width="1.6"/>
<polygon points="400.30,255.30 403.00,258.00 400.30,260.70 397.60,258.00" fill="#D8D5EE" stroke="#8A84C4" stroke-width="1.2"/>
<text x="408.40" y="260.60" font-size="7.8" fill="#1a1a1a">+ DTNB</text>
<text x="350.20" y="228.90" font-size="9.8" font-weight="bold" fill="#111">iii</text>
<text x="435.40" y="227.60" font-size="8.6" font-weight="bold" fill="#111">+ PSI B1</text>
<path d="M222.10,479.00 L223.08,477.96 L224.06,476.99 L225.05,476.07 L226.03,475.22 L227.01,474.42 L228.00,473.66 L228.98,472.96 L229.96,472.30 L230.94,471.68 L231.92,471.10 L232.91,470.56 L233.89,470.05 L234.87,469.57 L235.85,469.13 L236.84,468.71 L237.82,468.32 L238.80,467.95 L239.78,467.61 L240.77,467.28 L241.75,466.98 L242.73,466.70 L243.72,466.43 L244.70,466.18 L245.68,465.95 L246.66,465.73 L247.64,465.53 L248.63,465.33 L249.61,465.15 L250.59,464.99 L251.57,464.83 L252.56,464.68 L253.54,464.54 L254.52,464.41 L255.50,464.29 L256.49,464.18 L257.47,464.07 L258.45,463.97 L259.44,463.87 L260.42,463.79 L261.40,463.70 L262.38,463.63 L263.37,463.55 L264.35,463.49 L265.33,463.42 L266.31,463.36 L267.30,463.31 L268.28,463.26 L269.26,463.21 L270.24,463.16 L271.23,463.12 L272.21,463.08 L273.19,463.04 L274.17,463.00 L275.15,462.97 L276.14,462.94 L277.12,462.91 L278.10,462.88 L279.08,462.86 L280.07,462.83 L281.05,462.81 L282.03,462.79 L283.01,462.77 L284.00,462.75 L284.98,462.73 L285.96,462.72 L286.94,462.70 L287.93,462.69 L288.91,462.68 L289.89,462.66 L290.88,462.65 L291.86,462.64 L292.84,462.63 L293.82,462.62 L294.81,462.61 L295.79,462.60 L296.77,462.60 L297.75,462.59 L298.74,462.58 L299.72,462.57 L300.70,462.57 L301.68,462.56 L302.66,462.56 L303.65,462.55 L304.63,462.55 L305.61,462.54 L306.59,462.54 L307.58,462.53 L308.56,462.53 L309.54,462.53 L310.52,462.52 L311.51,462.52 L312.49,462.52 L313.47,462.52 L314.45,462.51 L315.44,462.51 L316.42,462.51 L317.40,462.51 L318.38,462.51 L319.37,462.50 L320.35,462.50" fill="none" stroke="#8A84C4" stroke-width="1.6"/>
<polygon points="227.01,471.46 229.71,474.16 227.01,476.86 224.31,474.16" fill="#D8D5EE" stroke="#8A84C4" stroke-width="1.2"/>
<polygon points="231.92,468.24 234.62,470.94 231.92,473.64 229.22,470.94" fill="#D8D5EE" stroke="#8A84C4" stroke-width="1.2"/>
<polygon points="241.75,465.42 244.45,468.12 241.75,470.82 239.05,468.12" fill="#D8D5EE" stroke="#8A84C4" stroke-width="1.2"/>
<polygon points="261.40,461.47 264.10,464.17 261.40,466.87 258.70,464.17" fill="#D8D5EE" stroke="#8A84C4" stroke-width="1.2"/>
<polygon points="320.35,459.78 323.05,462.48 320.35,465.18 317.65,462.48" fill="#D8D5EE" stroke="#8A84C4" stroke-width="1.2"/>
<path d="M222.10,479.00 L223.08,477.19 L224.06,475.71 L225.05,474.49 L226.03,473.50 L227.01,472.68 L228.00,472.02 L228.98,471.47 L229.96,471.02 L230.94,470.66 L231.92,470.36 L232.91,470.11 L233.89,469.91 L234.87,469.75 L235.85,469.61 L236.84,469.50 L237.82,469.41 L238.80,469.34 L239.78,469.28 L240.77,469.23 L241.75,469.19 L242.73,469.16 L243.72,469.13 L244.70,469.11 L245.68,469.09 L246.66,469.07 L247.64,469.06 L248.63,469.05 L249.61,469.04 L250.59,469.04 L251.57,469.03 L252.56,469.03 L253.54,469.02 L254.52,469.02 L255.50,469.02 L256.49,469.01 L257.47,469.01 L258.45,469.01 L259.44,469.01 L260.42,469.01 L261.40,469.01 L262.38,469.01 L263.37,469.01 L264.35,469.01 L265.33,469.01 L266.31,469.01 L267.30,469.01 L268.28,469.01 L269.26,469.01 L270.24,469.01 L271.23,469.01 L272.21,469.01 L273.19,469.01 L274.17,469.01 L275.15,469.01 L276.14,469.01 L277.12,469.01 L278.10,469.01 L279.08,469.01 L280.07,469.01 L281.05,469.01 L282.03,469.01 L283.01,469.01 L284.00,469.01 L284.98,469.01 L285.96,469.01 L286.94,469.01 L287.93,469.01 L288.91,469.01 L289.89,469.01 L290.88,469.01 L291.86,469.01 L292.84,469.01 L293.82,469.01 L294.81,469.01 L295.79,469.01 L296.77,469.01 L297.75,469.01 L298.74,469.01 L299.72,469.01 L300.70,469.01 L301.68,469.01 L302.66,469.01 L303.65,469.01 L304.63,469.01 L305.61,469.01 L306.59,469.01 L307.58,469.01 L308.56,469.01 L309.54,469.01 L310.52,469.01 L311.51,469.01 L312.49,469.01 L313.47,469.01 L314.45,469.01 L315.44,469.01 L316.42,469.01 L317.40,469.01 L318.38,469.01 L319.37,469.01 L320.35,469.01" fill="none" stroke="#2E6A4C" stroke-width="1.6"/>
<polygon points="227.01,470.56 229.76,475.09 224.27,475.09" fill="#8FB09E" stroke="#2E6A4C" stroke-width="1.2"/>
<polygon points="231.92,468.14 234.67,472.68 229.18,472.68" fill="#8FB09E" stroke="#2E6A4C" stroke-width="1.2"/>
<path d="M241.75,473.76 V466.51 M239.55,466.51 h4.4 M239.55,473.76 h4.4" stroke="#2E6A4C" stroke-width="1.1" fill="none"/>
<polygon points="241.75,467.33 244.49,471.87 239.01,471.87" fill="#8FB09E" stroke="#2E6A4C" stroke-width="1.2"/>
<path d="M261.40,473.04 V468.20 M259.20,468.20 h4.4 M259.20,473.04 h4.4" stroke="#2E6A4C" stroke-width="1.1" fill="none"/>
<polygon points="261.40,467.82 264.14,472.35 258.66,472.35" fill="#8FB09E" stroke="#2E6A4C" stroke-width="1.2"/>
<path d="M320.35,474.97 V464.49 M318.15,464.49 h4.4 M318.15,474.97 h4.4" stroke="#2E6A4C" stroke-width="1.1" fill="none"/>
<polygon points="320.35,466.93 323.09,471.47 317.61,471.47" fill="#8FB09E" stroke="#2E6A4C" stroke-width="1.2"/>
<path d="M222.10,479.00 L223.08,477.58 L224.06,476.19 L225.05,474.82 L226.03,473.47 L227.01,472.15 L228.00,470.84 L228.98,469.55 L229.96,468.28 L230.94,467.05 L231.92,465.86 L232.91,464.69 L233.89,463.48 L234.87,462.27 L235.85,461.07 L236.84,459.90 L237.82,458.80 L238.80,457.77 L239.78,456.84 L240.77,456.04 L241.75,455.38 L242.73,454.82 L243.72,454.29 L244.70,453.78 L245.68,453.30 L246.66,452.84 L247.64,452.41 L248.63,452.00 L249.61,451.61 L250.59,451.24 L251.57,450.88 L252.56,450.54 L253.54,450.22 L254.52,449.91 L255.50,449.61 L256.49,449.32 L257.47,449.04 L258.45,448.76 L259.44,448.49 L260.42,448.23 L261.40,447.97 L262.38,447.71 L263.37,447.45 L264.35,447.20 L265.33,446.96 L266.31,446.72 L267.30,446.48 L268.28,446.26 L269.26,446.04 L270.24,445.83 L271.23,445.63 L272.21,445.44 L273.19,445.26 L274.17,445.09 L275.15,444.93 L276.14,444.79 L277.12,444.66 L278.10,444.54 L279.08,444.42 L280.07,444.31 L281.05,444.20 L282.03,444.08 L283.01,443.97 L284.00,443.86 L284.98,443.76 L285.96,443.65 L286.94,443.54 L287.93,443.44 L288.91,443.33 L289.89,443.23 L290.88,443.13 L291.86,443.04 L292.84,442.94 L293.82,442.85 L294.81,442.75 L295.79,442.67 L296.77,442.58 L297.75,442.49 L298.74,442.41 L299.72,442.33 L300.70,442.26 L301.68,442.18 L302.66,442.11 L303.65,442.04 L304.63,441.98 L305.61,441.92 L306.59,441.86 L307.58,441.80 L308.56,441.75 L309.54,441.70 L310.52,441.66 L311.51,441.62 L312.49,441.58 L313.47,441.55 L314.45,441.52 L315.44,441.50 L316.42,441.48 L317.40,441.46 L318.38,441.45 L319.37,441.44 L320.35,441.44" fill="none" stroke="#D6952A" stroke-width="1.6"/>
<circle cx="224.06" cy="474.16" r="2.20" fill="#D6952A"/>
<circle cx="227.01" cy="466.43" r="2.20" fill="#D6952A"/>
<path d="M231.92,469.81 V464.98 M229.72,464.98 h4.4 M229.72,469.81 h4.4" stroke="#D6952A" stroke-width="1.1" fill="none"/>
<circle cx="231.92" cy="467.39" r="2.20" fill="#D6952A"/>
<circle cx="241.75" cy="455.63" r="2.20" fill="#D6952A"/>
<path d="M261.40,454.98 V442.41 M259.20,442.41 h4.4 M259.20,454.98 h4.4" stroke="#D6952A" stroke-width="1.1" fill="none"/>
<circle cx="261.40" cy="448.69" r="2.20" fill="#D6952A"/>
<path d="M320.35,445.47 V437.41 M318.15,437.41 h4.4 M318.15,445.47 h4.4" stroke="#D6952A" stroke-width="1.1" fill="none"/>
<circle cx="320.35" cy="441.44" r="2.20" fill="#D6952A"/>
<path d="M222.10,395.60 V479.00 M221.40,479.00 H342.60" stroke="#111" stroke-width="1.4" fill="none"/>
<line x1="218.80" y1="479.00" x2="222.10" y2="479.00" stroke="#111" stroke-width="1.2"/>
<text x="216.40" y="482.00" font-size="8.7" text-anchor="end" fill="#333">0.0</text>
<line x1="218.80" y1="462.88" x2="222.10" y2="462.88" stroke="#111" stroke-width="1.2"/>
<text x="216.40" y="465.88" font-size="8.7" text-anchor="end" fill="#333">0.2</text>
<line x1="218.80" y1="446.76" x2="222.10" y2="446.76" stroke="#111" stroke-width="1.2"/>
<text x="216.40" y="449.76" font-size="8.7" text-anchor="end" fill="#333">0.4</text>
<line x1="218.80" y1="430.64" x2="222.10" y2="430.64" stroke="#111" stroke-width="1.2"/>
<text x="216.40" y="433.64" font-size="8.7" text-anchor="end" fill="#333">0.6</text>
<line x1="218.80" y1="414.52" x2="222.10" y2="414.52" stroke="#111" stroke-width="1.2"/>
<text x="216.40" y="417.52" font-size="8.7" text-anchor="end" fill="#333">0.8</text>
<line x1="218.80" y1="398.40" x2="222.10" y2="398.40" stroke="#111" stroke-width="1.2"/>
<text x="216.40" y="401.40" font-size="8.7" text-anchor="end" fill="#333">1.0</text>
<line x1="222.10" y1="479.00" x2="222.10" y2="482.20" stroke="#111" stroke-width="1.2"/>
<text x="222.10" y="492.20" font-size="8.7" text-anchor="middle" fill="#333">0</text>
<line x1="261.40" y1="479.00" x2="261.40" y2="482.20" stroke="#111" stroke-width="1.2"/>
<text x="261.40" y="492.20" font-size="8.7" text-anchor="middle" fill="#333">2</text>
<line x1="300.70" y1="479.00" x2="300.70" y2="482.20" stroke="#111" stroke-width="1.2"/>
<text x="300.70" y="492.20" font-size="8.7" text-anchor="middle" fill="#333">4</text>
<line x1="340.00" y1="479.00" x2="340.00" y2="482.20" stroke="#111" stroke-width="1.2"/>
<text x="340.00" y="492.20" font-size="8.7" text-anchor="middle" fill="#333">6</text>
<text transform="translate(198.10,437.40) rotate(-90) scale(0.87,1)" font-size="10.0" text-anchor="middle" fill="#1a1a1a">Adhesion frequency</text>
<text transform="translate(282.70,506.00) scale(0.87,1)" font-size="10.0" text-anchor="middle" fill="#1a1a1a">Contact time (sec)</text>
<line x1="224.90" y1="399.00" x2="235.70" y2="399.00" stroke="#D6952A" stroke-width="1.6"/>
<circle cx="230.20" cy="399.00" r="2.20" fill="#D6952A"/>
<text x="238.30" y="401.60" font-size="7.8" fill="#1a1a1a">No treatment</text>
<line x1="224.90" y1="408.80" x2="235.70" y2="408.80" stroke="#2E6A4C" stroke-width="1.6"/>
<polygon points="230.20,406.00 232.94,410.54 227.46,410.54" fill="#8FB09E" stroke="#2E6A4C" stroke-width="1.2"/>
<text x="238.30" y="411.40" font-size="7.8" fill="#1a1a1a">+ Bacitracin</text>
<line x1="224.90" y1="417.80" x2="235.70" y2="417.80" stroke="#8A84C4" stroke-width="1.6"/>
<polygon points="230.20,415.10 232.90,417.80 230.20,420.50 227.50,417.80" fill="#D8D5EE" stroke="#8A84C4" stroke-width="1.2"/>
<text x="238.30" y="420.40" font-size="7.8" fill="#1a1a1a">+ DTNB</text>
<text x="180.30" y="385.20" font-size="9.8" font-weight="bold" fill="#111">iv</text>
<text x="265.30" y="385.40" font-size="8.6" font-weight="bold" fill="#111">+ PSI C1</text>
<path d="M392.10,479.00 L393.08,477.89 L394.06,476.88 L395.05,475.95 L396.03,475.10 L397.01,474.33 L398.00,473.62 L398.98,472.97 L399.96,472.38 L400.94,471.84 L401.93,471.35 L402.91,470.90 L403.89,470.48 L404.87,470.11 L405.86,469.76 L406.84,469.45 L407.82,469.16 L408.80,468.90 L409.79,468.66 L410.77,468.44 L411.75,468.24 L412.73,468.05 L413.72,467.88 L414.70,467.73 L415.68,467.59 L416.66,467.46 L417.65,467.35 L418.63,467.24 L419.61,467.14 L420.59,467.05 L421.58,466.97 L422.56,466.90 L423.54,466.83 L424.52,466.77 L425.50,466.71 L426.49,466.66 L427.47,466.61 L428.45,466.57 L429.44,466.53 L430.42,466.49 L431.40,466.46 L432.38,466.43 L433.37,466.40 L434.35,466.37 L435.33,466.35 L436.31,466.33 L437.30,466.31 L438.28,466.29 L439.26,466.28 L440.24,466.26 L441.23,466.25 L442.21,466.23 L443.19,466.22 L444.17,466.21 L445.16,466.20 L446.14,466.20 L447.12,466.19 L448.10,466.18 L449.09,466.17 L450.07,466.17 L451.05,466.16 L452.03,466.16 L453.02,466.15 L454.00,466.15 L454.98,466.14 L455.96,466.14 L456.95,466.14 L457.93,466.14 L458.91,466.13 L459.89,466.13 L460.88,466.13 L461.86,466.13 L462.84,466.12 L463.82,466.12 L464.81,466.12 L465.79,466.12 L466.77,466.12 L467.75,466.12 L468.74,466.12 L469.72,466.11 L470.70,466.11 L471.68,466.11 L472.67,466.11 L473.65,466.11 L474.63,466.11 L475.61,466.11 L476.60,466.11 L477.58,466.11 L478.56,466.11 L479.54,466.11 L480.53,466.11 L481.51,466.11 L482.49,466.11 L483.47,466.11 L484.46,466.11 L485.44,466.11 L486.42,466.11 L487.40,466.11 L488.38,466.11 L489.37,466.11 L490.35,466.11" fill="none" stroke="#8A84C4" stroke-width="1.6"/>
<polygon points="397.01,471.46 399.71,474.16 397.01,476.86 394.31,474.16" fill="#D8D5EE" stroke="#8A84C4" stroke-width="1.2"/>
<polygon points="401.93,468.24 404.62,470.94 401.93,473.64 399.23,470.94" fill="#D8D5EE" stroke="#8A84C4" stroke-width="1.2"/>
<path d="M411.75,468.52 V463.69 M409.55,463.69 h4.4 M409.55,468.52 h4.4" stroke="#8A84C4" stroke-width="1.1" fill="none"/>
<polygon points="411.75,463.40 414.45,466.10 411.75,468.80 409.05,466.10" fill="#D8D5EE" stroke="#8A84C4" stroke-width="1.2"/>
<path d="M431.40,469.33 V464.49 M429.20,464.49 h4.4 M429.20,469.33 h4.4" stroke="#8A84C4" stroke-width="1.1" fill="none"/>
<polygon points="431.40,464.21 434.10,466.91 431.40,469.61 428.70,466.91" fill="#D8D5EE" stroke="#8A84C4" stroke-width="1.2"/>
<polygon points="490.35,463.00 493.05,465.70 490.35,468.40 487.65,465.70" fill="#D8D5EE" stroke="#8A84C4" stroke-width="1.2"/>
<path d="M392.10,479.00 L393.08,478.10 L394.06,477.26 L395.05,476.48 L396.03,475.76 L397.01,475.09 L398.00,474.47 L398.98,473.90 L399.96,473.36 L400.94,472.87 L401.93,472.41 L402.91,471.98 L403.89,471.59 L404.87,471.22 L405.86,470.88 L406.84,470.56 L407.82,470.27 L408.80,470.00 L409.79,469.75 L410.77,469.51 L411.75,469.29 L412.73,469.09 L413.72,468.91 L414.70,468.73 L415.68,468.57 L416.66,468.42 L417.65,468.28 L418.63,468.16 L419.61,468.04 L420.59,467.93 L421.58,467.82 L422.56,467.73 L423.54,467.64 L424.52,467.56 L425.50,467.48 L426.49,467.41 L427.47,467.35 L428.45,467.29 L429.44,467.23 L430.42,467.18 L431.40,467.13 L432.38,467.08 L433.37,467.04 L434.35,467.00 L435.33,466.97 L436.31,466.93 L437.30,466.90 L438.28,466.87 L439.26,466.85 L440.24,466.82 L441.23,466.80 L442.21,466.78 L443.19,466.76 L444.17,466.74 L445.16,466.72 L446.14,466.71 L447.12,466.69 L448.10,466.68 L449.09,466.67 L450.07,466.66 L451.05,466.65 L452.03,466.64 L453.02,466.63 L454.00,466.62 L454.98,466.61 L455.96,466.60 L456.95,466.60 L457.93,466.59 L458.91,466.58 L459.89,466.58 L460.88,466.57 L461.86,466.57 L462.84,466.56 L463.82,466.56 L464.81,466.56 L465.79,466.55 L466.77,466.55 L467.75,466.55 L468.74,466.54 L469.72,466.54 L470.70,466.54 L471.68,466.54 L472.67,466.53 L473.65,466.53 L474.63,466.53 L475.61,466.53 L476.60,466.53 L477.58,466.53 L478.56,466.52 L479.54,466.52 L480.53,466.52 L481.51,466.52 L482.49,466.52 L483.47,466.52 L484.46,466.52 L485.44,466.52 L486.42,466.52 L487.40,466.52 L488.38,466.52 L489.37,466.51 L490.35,466.51" fill="none" stroke="#2E6A4C" stroke-width="1.6"/>
<polygon points="397.01,472.17 399.76,476.71 394.27,476.71" fill="#8FB09E" stroke="#2E6A4C" stroke-width="1.2"/>
<polygon points="401.93,470.96 404.67,475.50 399.18,475.50" fill="#8FB09E" stroke="#2E6A4C" stroke-width="1.2"/>
<polygon points="411.75,469.43 414.49,473.97 409.01,473.97" fill="#8FB09E" stroke="#2E6A4C" stroke-width="1.2"/>
<path d="M431.40,470.13 V465.30 M429.20,465.30 h4.4 M429.20,470.13 h4.4" stroke="#2E6A4C" stroke-width="1.1" fill="none"/>
<polygon points="431.40,464.92 434.14,469.45 428.66,469.45" fill="#8FB09E" stroke="#2E6A4C" stroke-width="1.2"/>
<path d="M490.35,468.52 V463.69 M488.15,463.69 h4.4 M488.15,468.52 h4.4" stroke="#2E6A4C" stroke-width="1.1" fill="none"/>
<polygon points="490.35,463.30 493.09,467.84 487.61,467.84" fill="#8FB09E" stroke="#2E6A4C" stroke-width="1.2"/>
<path d="M392.10,479.00 L393.08,476.67 L394.06,474.53 L395.05,472.56 L396.03,470.75 L397.01,469.09 L398.00,467.57 L398.98,466.17 L399.96,464.88 L400.94,463.70 L401.93,462.62 L402.91,461.62 L403.89,460.70 L404.87,459.86 L405.86,459.09 L406.84,458.38 L407.82,457.73 L408.80,457.13 L409.79,456.58 L410.77,456.08 L411.75,455.61 L412.73,455.19 L413.72,454.80 L414.70,454.44 L415.68,454.11 L416.66,453.80 L417.65,453.53 L418.63,453.27 L419.61,453.04 L420.59,452.82 L421.58,452.62 L422.56,452.44 L423.54,452.27 L424.52,452.12 L425.50,451.98 L426.49,451.85 L427.47,451.73 L428.45,451.62 L429.44,451.52 L430.42,451.43 L431.40,451.34 L432.38,451.26 L433.37,451.19 L434.35,451.13 L435.33,451.07 L436.31,451.01 L437.30,450.96 L438.28,450.91 L439.26,450.87 L440.24,450.83 L441.23,450.80 L442.21,450.76 L443.19,450.73 L444.17,450.70 L445.16,450.68 L446.14,450.65 L447.12,450.63 L448.10,450.61 L449.09,450.59 L450.07,450.58 L451.05,450.56 L452.03,450.55 L453.02,450.53 L454.00,450.52 L454.98,450.51 L455.96,450.50 L456.95,450.49 L457.93,450.48 L458.91,450.48 L459.89,450.47 L460.88,450.46 L461.86,450.46 L462.84,450.45 L463.82,450.44 L464.81,450.44 L465.79,450.44 L466.77,450.43 L467.75,450.43 L468.74,450.42 L469.72,450.42 L470.70,450.42 L471.68,450.42 L472.67,450.41 L473.65,450.41 L474.63,450.41 L475.61,450.41 L476.60,450.41 L477.58,450.40 L478.56,450.40 L479.54,450.40 L480.53,450.40 L481.51,450.40 L482.49,450.40 L483.47,450.40 L484.46,450.40 L485.44,450.40 L486.42,450.40 L487.40,450.39 L488.38,450.39 L489.37,450.39 L490.35,450.39" fill="none" stroke="#D6952A" stroke-width="1.6"/>
<circle cx="394.06" cy="474.16" r="2.20" fill="#D6952A"/>
<path d="M397.01,472.15 V467.31 M394.81,467.31 h4.4 M394.81,472.15 h4.4" stroke="#D6952A" stroke-width="1.1" fill="none"/>
<circle cx="397.01" cy="469.73" r="2.20" fill="#D6952A"/>
<path d="M401.93,466.10 V461.27 M399.73,461.27 h4.4 M399.73,466.10 h4.4" stroke="#D6952A" stroke-width="1.1" fill="none"/>
<circle cx="401.93" cy="463.69" r="2.20" fill="#D6952A"/>
<path d="M411.75,460.87 V453.61 M409.55,453.61 h4.4 M409.55,460.87 h4.4" stroke="#D6952A" stroke-width="1.1" fill="none"/>
<circle cx="411.75" cy="457.24" r="2.20" fill="#D6952A"/>
<path d="M431.40,454.09 V448.13 M429.20,448.13 h4.4 M429.20,454.09 h4.4" stroke="#D6952A" stroke-width="1.1" fill="none"/>
<circle cx="431.40" cy="451.11" r="2.20" fill="#D6952A"/>
<path d="M490.35,453.21 V446.76 M488.15,446.76 h4.4 M488.15,453.21 h4.4" stroke="#D6952A" stroke-width="1.1" fill="none"/>
<circle cx="490.35" cy="449.98" r="2.20" fill="#D6952A"/>
<path d="M392.10,395.60 V479.00 M391.40,479.00 H512.60" stroke="#111" stroke-width="1.4" fill="none"/>
<line x1="388.80" y1="479.00" x2="392.10" y2="479.00" stroke="#111" stroke-width="1.2"/>
<text x="386.40" y="482.00" font-size="8.7" text-anchor="end" fill="#333">0.0</text>
<line x1="388.80" y1="462.88" x2="392.10" y2="462.88" stroke="#111" stroke-width="1.2"/>
<text x="386.40" y="465.88" font-size="8.7" text-anchor="end" fill="#333">0.2</text>
<line x1="388.80" y1="446.76" x2="392.10" y2="446.76" stroke="#111" stroke-width="1.2"/>
<text x="386.40" y="449.76" font-size="8.7" text-anchor="end" fill="#333">0.4</text>
<line x1="388.80" y1="430.64" x2="392.10" y2="430.64" stroke="#111" stroke-width="1.2"/>
<text x="386.40" y="433.64" font-size="8.7" text-anchor="end" fill="#333">0.6</text>
<line x1="388.80" y1="414.52" x2="392.10" y2="414.52" stroke="#111" stroke-width="1.2"/>
<text x="386.40" y="417.52" font-size="8.7" text-anchor="end" fill="#333">0.8</text>
<line x1="388.80" y1="398.40" x2="392.10" y2="398.40" stroke="#111" stroke-width="1.2"/>
<text x="386.40" y="401.40" font-size="8.7" text-anchor="end" fill="#333">1.0</text>
<line x1="392.10" y1="479.00" x2="392.10" y2="482.20" stroke="#111" stroke-width="1.2"/>
<text x="392.10" y="492.20" font-size="8.7" text-anchor="middle" fill="#333">0</text>
<line x1="431.40" y1="479.00" x2="431.40" y2="482.20" stroke="#111" stroke-width="1.2"/>
<text x="431.40" y="492.20" font-size="8.7" text-anchor="middle" fill="#333">2</text>
<line x1="470.70" y1="479.00" x2="470.70" y2="482.20" stroke="#111" stroke-width="1.2"/>
<text x="470.70" y="492.20" font-size="8.7" text-anchor="middle" fill="#333">4</text>
<line x1="510.00" y1="479.00" x2="510.00" y2="482.20" stroke="#111" stroke-width="1.2"/>
<text x="510.00" y="492.20" font-size="8.7" text-anchor="middle" fill="#333">6</text>
<text transform="translate(368.10,437.40) rotate(-90) scale(0.87,1)" font-size="10.0" text-anchor="middle" fill="#1a1a1a">Adhesion frequency</text>
<text transform="translate(452.70,506.00) scale(0.87,1)" font-size="10.0" text-anchor="middle" fill="#1a1a1a">Contact time (sec)</text>
<line x1="394.90" y1="396.60" x2="405.70" y2="396.60" stroke="#D6952A" stroke-width="1.6"/>
<circle cx="400.20" cy="396.60" r="2.20" fill="#D6952A"/>
<text x="408.30" y="399.20" font-size="7.8" fill="#1a1a1a">No treatment</text>
<line x1="394.90" y1="405.70" x2="405.70" y2="405.70" stroke="#2E6A4C" stroke-width="1.6"/>
<polygon points="400.20,402.90 402.94,407.44 397.46,407.44" fill="#8FB09E" stroke="#2E6A4C" stroke-width="1.2"/>
<text x="408.30" y="408.30" font-size="7.8" fill="#1a1a1a">+ Bacitracin</text>
<line x1="394.90" y1="414.70" x2="405.70" y2="414.70" stroke="#8A84C4" stroke-width="1.6"/>
<polygon points="400.20,412.00 402.90,414.70 400.20,417.40 397.50,414.70" fill="#D8D5EE" stroke="#8A84C4" stroke-width="1.2"/>
<text x="408.30" y="417.30" font-size="7.8" fill="#1a1a1a">+ DTNB</text>
<text x="352.60" y="385.20" font-size="9.8" font-weight="bold" fill="#111">v</text>
<text x="435.30" y="385.40" font-size="8.6" font-weight="bold" fill="#111">+ PSI E1</text>
<rect x="62.3" y="424.9" width="65" height="33.2" fill="none" stroke="#111" stroke-width="1.6"/>
<text transform="translate(65.6,438.2) scale(1.08,1)" font-size="9" font-weight="bold" fill="#111">m<tspan font-size="6.2" dy="2.2">r</tspan><tspan dy="-2.2"> = 45 </tspan><tspan letter-spacing="0.2">μm</tspan><tspan font-size="6.6" dy="-3.8">-2</tspan></text>
<text transform="translate(65.6,450.1) scale(1.08,1)" font-size="9" font-weight="bold" fill="#111">m<tspan font-size="6.2" dy="2.2">l</tspan><tspan dy="-2.2"> = 55 </tspan><tspan letter-spacing="0.2">μm</tspan><tspan font-size="6.6" dy="-3.8">-2</tspan></text>
<rect x="0" y="0" width="520" height="1.4" fill="#000"/>
<rect x="0" y="0" width="1.6" height="515" fill="#000"/>
<rect x="518.6" y="0" width="1.4" height="515" fill="#000"/>
<rect x="0" y="513.4" width="520" height="1.6" fill="#000"/>
</svg>
</body></html>
